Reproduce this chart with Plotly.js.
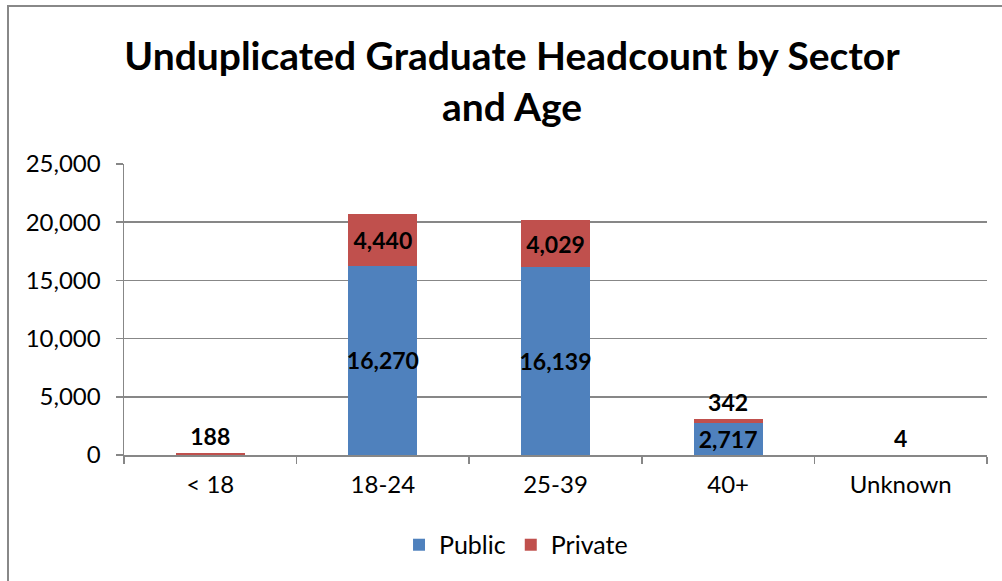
<!DOCTYPE html>
<html>
<head>
<meta charset="utf-8">
<script src="https://cdn.plot.ly/plotly-3.0.1.min.js"></script>
<style>
  html, body { margin: 0; padding: 0; background: #fff; overflow: hidden; }
  #chart { position: absolute; left: 0; top: 0; width: 1002px; height: 581px; }
  #frame { position: absolute; left: 7px; top: 5px; width: 1100px; height: 700px;
           border: 2px solid #888; box-sizing: border-box; pointer-events: none; }
</style>
</head>
<body>
<div id="chart"></div>
<div id="frame"></div>
<script>
const categories = ['< 18', '18-24', '25-39', '40+', 'Unknown'];
const publicValues = [0, 16270, 16139, 2717, 0];
const privateValues = [188, 4440, 4029, 342, 4];
const yTicks = [0, 5000, 10000, 15000, 20000, 25000];

const fmt = v => v === 0 ? '' : v.toLocaleString('en-US');
const FONT = 'Lato, "Liberation Sans", sans-serif';

const traces = [
  {
    type: 'bar', name: 'Public', x: categories, y: publicValues,
    marker: { color: '#4F81BD', line: { width: 0 } },
    text: publicValues.map(fmt), textposition: 'inside', insidetextanchor: 'middle',
    constraintext: 'none', textangle: 0,
    insidetextfont: { family: FONT, size: 23, color: '#000', weight: 'bold' },
    hoverinfo: 'none'
  },
  {
    type: 'bar', name: 'Private', x: categories, y: privateValues,
    marker: { color: '#C0504D', line: { width: 0 } },
    text: privateValues.map(fmt),
    textposition: ['outside', 'inside', 'inside', 'outside', 'outside'],
    insidetextanchor: 'middle', constraintext: 'none', textangle: 0, cliponaxis: false,
    insidetextfont: { family: FONT, size: 23, color: '#000', weight: 'bold' },
    outsidetextfont: { family: FONT, size: 23, color: '#000', weight: 'bold' },
    hoverinfo: 'none'
  }
];

const layout = {
  width: 1002, height: 581,
  margin: { l: 124, r: 15, t: 164, b: 126 },
  paper_bgcolor: '#fff', plot_bgcolor: '#fff',
  barmode: 'stack', bargap: 0.6,
  font: { family: FONT, size: 24, color: '#000' },
  title: {
    text: 'Unduplicated Graduate Headcount by Sector<br>and Age',
    font: { family: FONT, size: 39, color: '#000', weight: 'bold' },
    xref: 'container', x: 0.511, xanchor: 'center',
    yref: 'container', y: 0.879, yanchor: 'top'
  },
  xaxis: {
    type: 'category', tickson: 'boundaries', ticks: 'outside', ticklen: 7,
    tickcolor: '#878787', tickwidth: 1.5, showline: true, linecolor: '#878787', linewidth: 1.5,
    showgrid: false, tickfont: { family: FONT, size: 24, color: '#000' }, ticklabelstandoff: 8
  },
  yaxis: {
    range: [0, 25000], tickvals: yTicks, ticktext: yTicks.map(v => v.toLocaleString('en-US')),
    ticks: 'outside', ticklen: 7, tickcolor: '#878787', tickwidth: 1.5,
    showline: true, linecolor: '#878787', linewidth: 1.5,
    showgrid: true, gridcolor: '#878787', gridwidth: 1.5, zeroline: false,
    tickfont: { family: FONT, size: 24, color: '#000' }, ticklabelstandoff: 10
  },
  showlegend: true,
  legend: {
    orientation: 'h', xref: 'container', yref: 'container',
    x: 0.515, xanchor: 'center', y: 0.062, yanchor: 'middle',
    font: { family: FONT, size: 25, color: '#000' }, traceorder: 'normal'
  }
};

Plotly.newPlot('chart', traces, layout, { displayModeBar: false, staticPlot: true });
</script>
</body>
</html>
